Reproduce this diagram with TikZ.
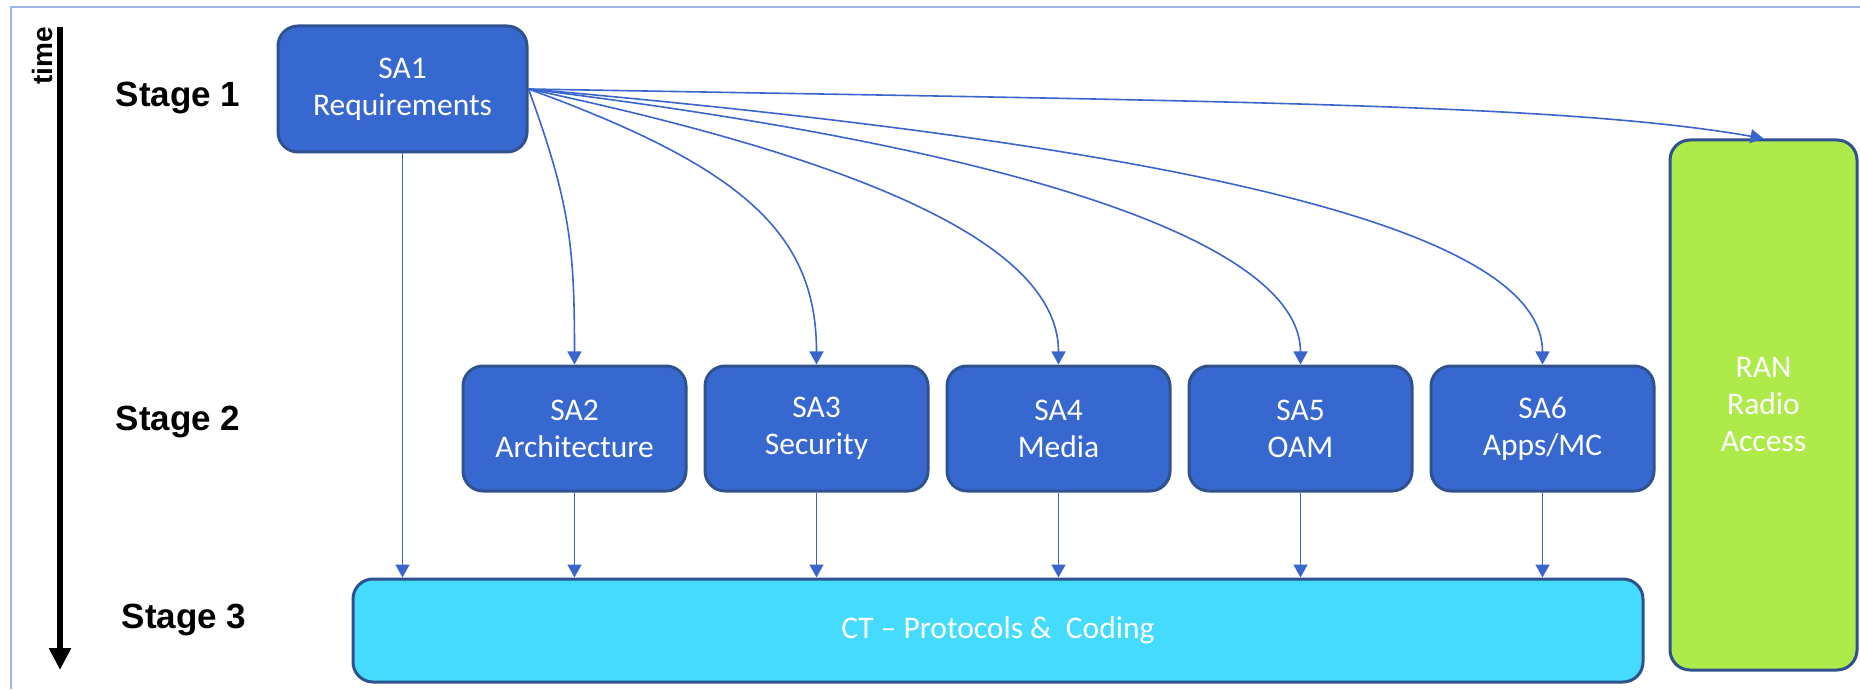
\documentclass[tikz,border=0pt]{standalone}
\usepackage{fontspec}
\setmainfont{Carlito}
\newfontfamily\stagefont{Liberation Sans}
\usetikzlibrary{arrows.meta, positioning}
\definecolor{sablue}{HTML}{3768CF}
\definecolor{saborder}{HTML}{2F528F}
\definecolor{ctcyan}{HTML}{44DBFF}
\definecolor{ranlime}{HTML}{AEEB4A}
\definecolor{arrowblue}{HTML}{3A65CC}
\definecolor{frameblue}{HTML}{9DB5E3}

\begin{document}
\begin{tikzpicture}[
            x=1pt, y=1pt,
            node distance=16pt,
            blueroundbox/.style={rectangle, rounded corners=20pt, draw=saborder, line width=3pt, fill=sablue, text=white, align=center, font=\fontsize{31.5}{37}\selectfont, minimum width=223pt, minimum height=125pt, inner sep=0pt},
            cyanroundbox/.style={blueroundbox, fill=ctcyan, minimum width=1290pt, minimum height=103pt},
            greenroundbox/.style={blueroundbox, fill=ranlime, minimum width=187pt, minimum height=530pt},
            stagelabel/.style={font=\stagefont\bfseries\fontsize{35}{40}\selectfont},
            link/.style={draw=arrowblue, line width=1.6pt, -{Triangle[length=13pt, width=14pt]}},
            ]
            \useasboundingbox (0,0) rectangle (1860,689);
            \draw[frameblue, line width=2pt] (11,0) -- (11,682) -- (1860,682);

            % time axis
            \coordinate (ttop) at (60,662);
            \coordinate (tbot) at (60,19);
            \draw[line width=5.5pt, -{Triangle[length=22pt, width=21pt]}] (ttop) -- (tbot);
            \node[rotate=90, font=\stagefont\bfseries\fontsize{28}{30}\selectfont, inner sep=1pt, anchor=south east] (time) at (54,663) {time};

            \node[stagelabel] (st1) at (178,591) {Stage 1};
            \node[stagelabel] (st2) at (178,267) {Stage 2};
            \node[stagelabel] (st3) at (184,69)  {Stage 3};

            \node[blueroundbox, minimum width=249pt, minimum height=126pt] (sa1) at (402.5,600) {SA1\\Requirements};
            \node[blueroundbox] (sa2) at (574.5,260.5) {SA2\\Architecture};
            \node[blueroundbox] (sa3) [right=of sa2] {SA3\\Security};
            \node[blueroundbox] (sa4) [right=of sa3] {SA4\\Media};
            \node[blueroundbox] (sa5) [right=of sa4] {SA5\\OAM};
            \node[blueroundbox] (sa6) [right=of sa5] {SA6\\Apps/MC};
            \node[cyanroundbox] (ct) at (998,58.5) {CT -- Protocols \&\ \ Coding};
            \node[greenroundbox] (ran) at (1763.5,284) {RAN\\Radio\\Access};

            % fan-out from SA1
            \draw[link] (sa1.east) .. controls +(-70:120) and +(90:120) .. (sa2.north);
            \draw[link] (sa1.east) .. controls +(-20:230) and +(90:130) .. (sa3.north);
            \draw[link] (sa1.east) .. controls +(-12:380) and +(90:110) .. (sa4.north);
            \draw[link] (sa1.east) .. controls +(-7:550) and +(90:110) .. (sa5.north);
            \draw[link] (sa1.east) .. controls +(-5:750) and +(90:120) .. (sa6.north);
            \draw[link] (sa1.east) .. controls +(-1:700) and +(170:200) .. (ran.north);

            \draw[link] (sa1.south) -- (sa1.south |- ct.north);
            \draw[link] (sa2.south) -- (ct.north -| sa2.south);
            \draw[link] (sa3.south) -- (ct.north -| sa3.south);
            \draw[link] (sa4.south) -- (ct.north -| sa4.south);
            \draw[link] (sa5.south) -- (ct.north -| sa5.south);
            \draw[link] (sa6.south) -- (ct.north -| sa6.south);
        \end{tikzpicture}
\end{document}
